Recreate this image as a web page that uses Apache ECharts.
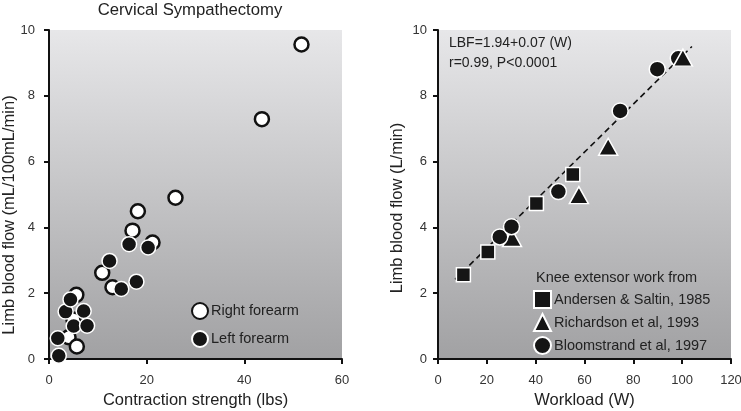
<!DOCTYPE html>
<html><head><meta charset="utf-8">
<script src="https://cdn.jsdelivr.net/npm/echarts@6/dist/echarts.min.js"></script>
<style>html,body{margin:0;padding:0;background:#fff}#c{width:741px;height:411px}</style>
</head><body><div id="c"></div>
<script>
// Left panel: Cervical Sympathectomy  [contraction strength (lbs), limb blood flow]
const rightForearm = [[51.7,9.56],[43.6,7.29],[25.9,4.90],[18.2,4.49],[17.1,3.90],[21.2,3.54],[10.9,2.62],[13.0,2.18],[5.6,1.95],[4.0,0.66],[5.7,0.38],[5.0,1.2]];
const leftForearm = [[2.0,0.10],[1.8,0.63],[5.05,1.0],[7.8,1.01],[3.4,1.44],[7.1,1.46],[4.4,1.81],[12.4,2.98],[14.8,2.13],[17.9,2.35],[16.4,3.49],[20.3,3.39]];
// Right panel: knee extensor work [workload (W), limb blood flow (L/min)]
const andersen = [[10.4,2.56],[20.4,3.25],[40.3,4.73],[55.2,5.61]];
const richardson = [[30.3,3.68],[57.7,4.98],[69.7,6.45],[100.3,9.16]];
const bloomstrand = [[25.3,3.71],[30.1,4.02],[49.3,5.09],[74.6,7.54],[89.8,8.81],[98.4,9.14]];
const fitLine = [[7,2.42],[104,9.5]];
const leftXTicks = [0,20,40,60];
const rightXTicks = [0,20,40,60,80,100,120];
const yTicks = [0,2,4,6,8,10];

const FONT = 'Liberation Sans, Arial, sans-serif';
const bg = {type:'linear',x:0,y:0,x2:0,y2:1,colorStops:[{offset:0,color:'#e7e7e9'},{offset:1,color:'#a1a1a3'}]};

function xAxis(idx, ticks, name){
  return {gridIndex:idx,type:'value',min:ticks[0],max:ticks[ticks.length-1],interval:ticks[1]-ticks[0],
    name:name,nameLocation:'middle',nameGap:32,nameTextStyle:{fontSize:16.5,color:'#222',fontFamily:FONT},
    axisLine:{show:true,lineStyle:{color:'#111',width:2}},
    axisTick:{show:true,length:5,lineStyle:{color:'#111',width:2}},
    axisLabel:{fontSize:13,color:'#333',margin:15,fontFamily:FONT},
    splitLine:{show:false}};
}
function yAxis(idx, margin){
  return {gridIndex:idx,type:'value',min:yTicks[0],max:yTicks[yTicks.length-1],interval:yTicks[1]-yTicks[0],
    axisLine:{show:true,lineStyle:{color:'#111',width:2}},
    axisTick:{show:true,length:5,lineStyle:{color:'#111',width:2}},
    axisLabel:{fontSize:13,color:'#333',margin:margin,fontFamily:FONT},
    splitLine:{show:false}};
}
const blackStyle = {color:'#151515',borderColor:'#fff',borderWidth:1.5,opacity:1};
const option = {
  animation:false,
  backgroundColor:'#fff',
  grid:[
    {left:49,top:30,width:293,height:329,show:true,backgroundColor:bg,borderWidth:0,containLabel:false,outerBoundsMode:'none'},
    {left:438,top:30,width:293,height:329,show:true,backgroundColor:bg,borderWidth:0,containLabel:false,outerBoundsMode:'none'}
  ],
  xAxis:[xAxis(0,leftXTicks,'Contraction strength (lbs)'),xAxis(1,rightXTicks,'Workload (W)')],
  yAxis:[yAxis(0,14),yAxis(1,11)],
  legend:[
    {data:['Right forearm','Left forearm'],orient:'vertical',left:186,top:297,itemWidth:16,itemHeight:16,itemGap:10,
     textStyle:{fontSize:14.5,color:'#222',fontFamily:FONT,padding:[0,0,0,-2]}},
    {data:[{name:'Andersen & Saltin, 1985',icon:'rect'},{name:'Richardson et al, 1993',icon:'triangle'},{name:'Bloomstrand et al, 1997',icon:'circle'}],
     orient:'vertical',left:528,top:285,itemWidth:17,itemHeight:17,itemGap:4,
     textStyle:{fontSize:14.5,color:'#222',fontFamily:FONT,padding:[0,0,0,-2]}}
  ],
  graphic:[
    {type:'text',x:190,y:10,style:{text:'Cervical Sympathectomy',align:'center',verticalAlign:'middle',font:'16.7px '+FONT,fill:'#222'}},
    {type:'text',x:9,y:215,rotation:Math.PI/2,style:{text:'Limb blood flow (mL/100mL/min)',align:'center',verticalAlign:'middle',font:'16.5px '+FONT,fill:'#222'}},
    {type:'text',x:397,y:208,rotation:Math.PI/2,style:{text:'Limb blood flow (L/min)',align:'center',verticalAlign:'middle',font:'16.5px '+FONT,fill:'#222'}},
    {type:'text',x:449,y:43,z:10,style:{text:'LBF=1.94+0.07 (W)',verticalAlign:'middle',font:'14px '+FONT,fill:'#222'}},
    {type:'text',x:449,y:63,z:10,style:{text:'r=0.99, P<0.0001',verticalAlign:'middle',font:'14px '+FONT,fill:'#222'}},
    {type:'text',x:536,y:278,z:10,style:{text:'Knee extensor work from',verticalAlign:'middle',font:'14.5px '+FONT,fill:'#222'}}
  ],
  series:[
    {name:'Right forearm',type:'scatter',xAxisIndex:0,yAxisIndex:0,data:rightForearm,symbol:'circle',symbolSize:14,
     itemStyle:{color:'#fff',borderColor:'#111',borderWidth:2.5,opacity:1},z:2},
    {name:'Left forearm',type:'scatter',xAxisIndex:0,yAxisIndex:0,data:leftForearm,symbol:'circle',symbolSize:15,
     itemStyle:blackStyle,z:3},
    {name:'fit',type:'line',xAxisIndex:1,yAxisIndex:1,data:fitLine,symbol:'none',
     lineStyle:{color:'#111',width:1.6,type:[6,4]},z:1},
    {name:'Andersen & Saltin, 1985',type:'scatter',xAxisIndex:1,yAxisIndex:1,data:andersen,symbol:'rect',symbolSize:14,
     itemStyle:blackStyle,z:2},
    {name:'Richardson et al, 1993',type:'scatter',xAxisIndex:1,yAxisIndex:1,data:richardson.slice(0,3),symbol:'triangle',symbolSize:[19,17],
     itemStyle:blackStyle,z:2},
    {name:'Bloomstrand et al, 1997',type:'scatter',xAxisIndex:1,yAxisIndex:1,data:bloomstrand,symbol:'circle',symbolSize:16,
     itemStyle:blackStyle,z:3},
    {name:'Richardson et al, 1993',type:'scatter',xAxisIndex:1,yAxisIndex:1,data:richardson.slice(3),symbol:'triangle',symbolSize:[19,17],
     itemStyle:blackStyle,z:4}
  ]
};
const chart = echarts.init(document.getElementById('c'));
chart.setOption(option);
</script></body></html>
